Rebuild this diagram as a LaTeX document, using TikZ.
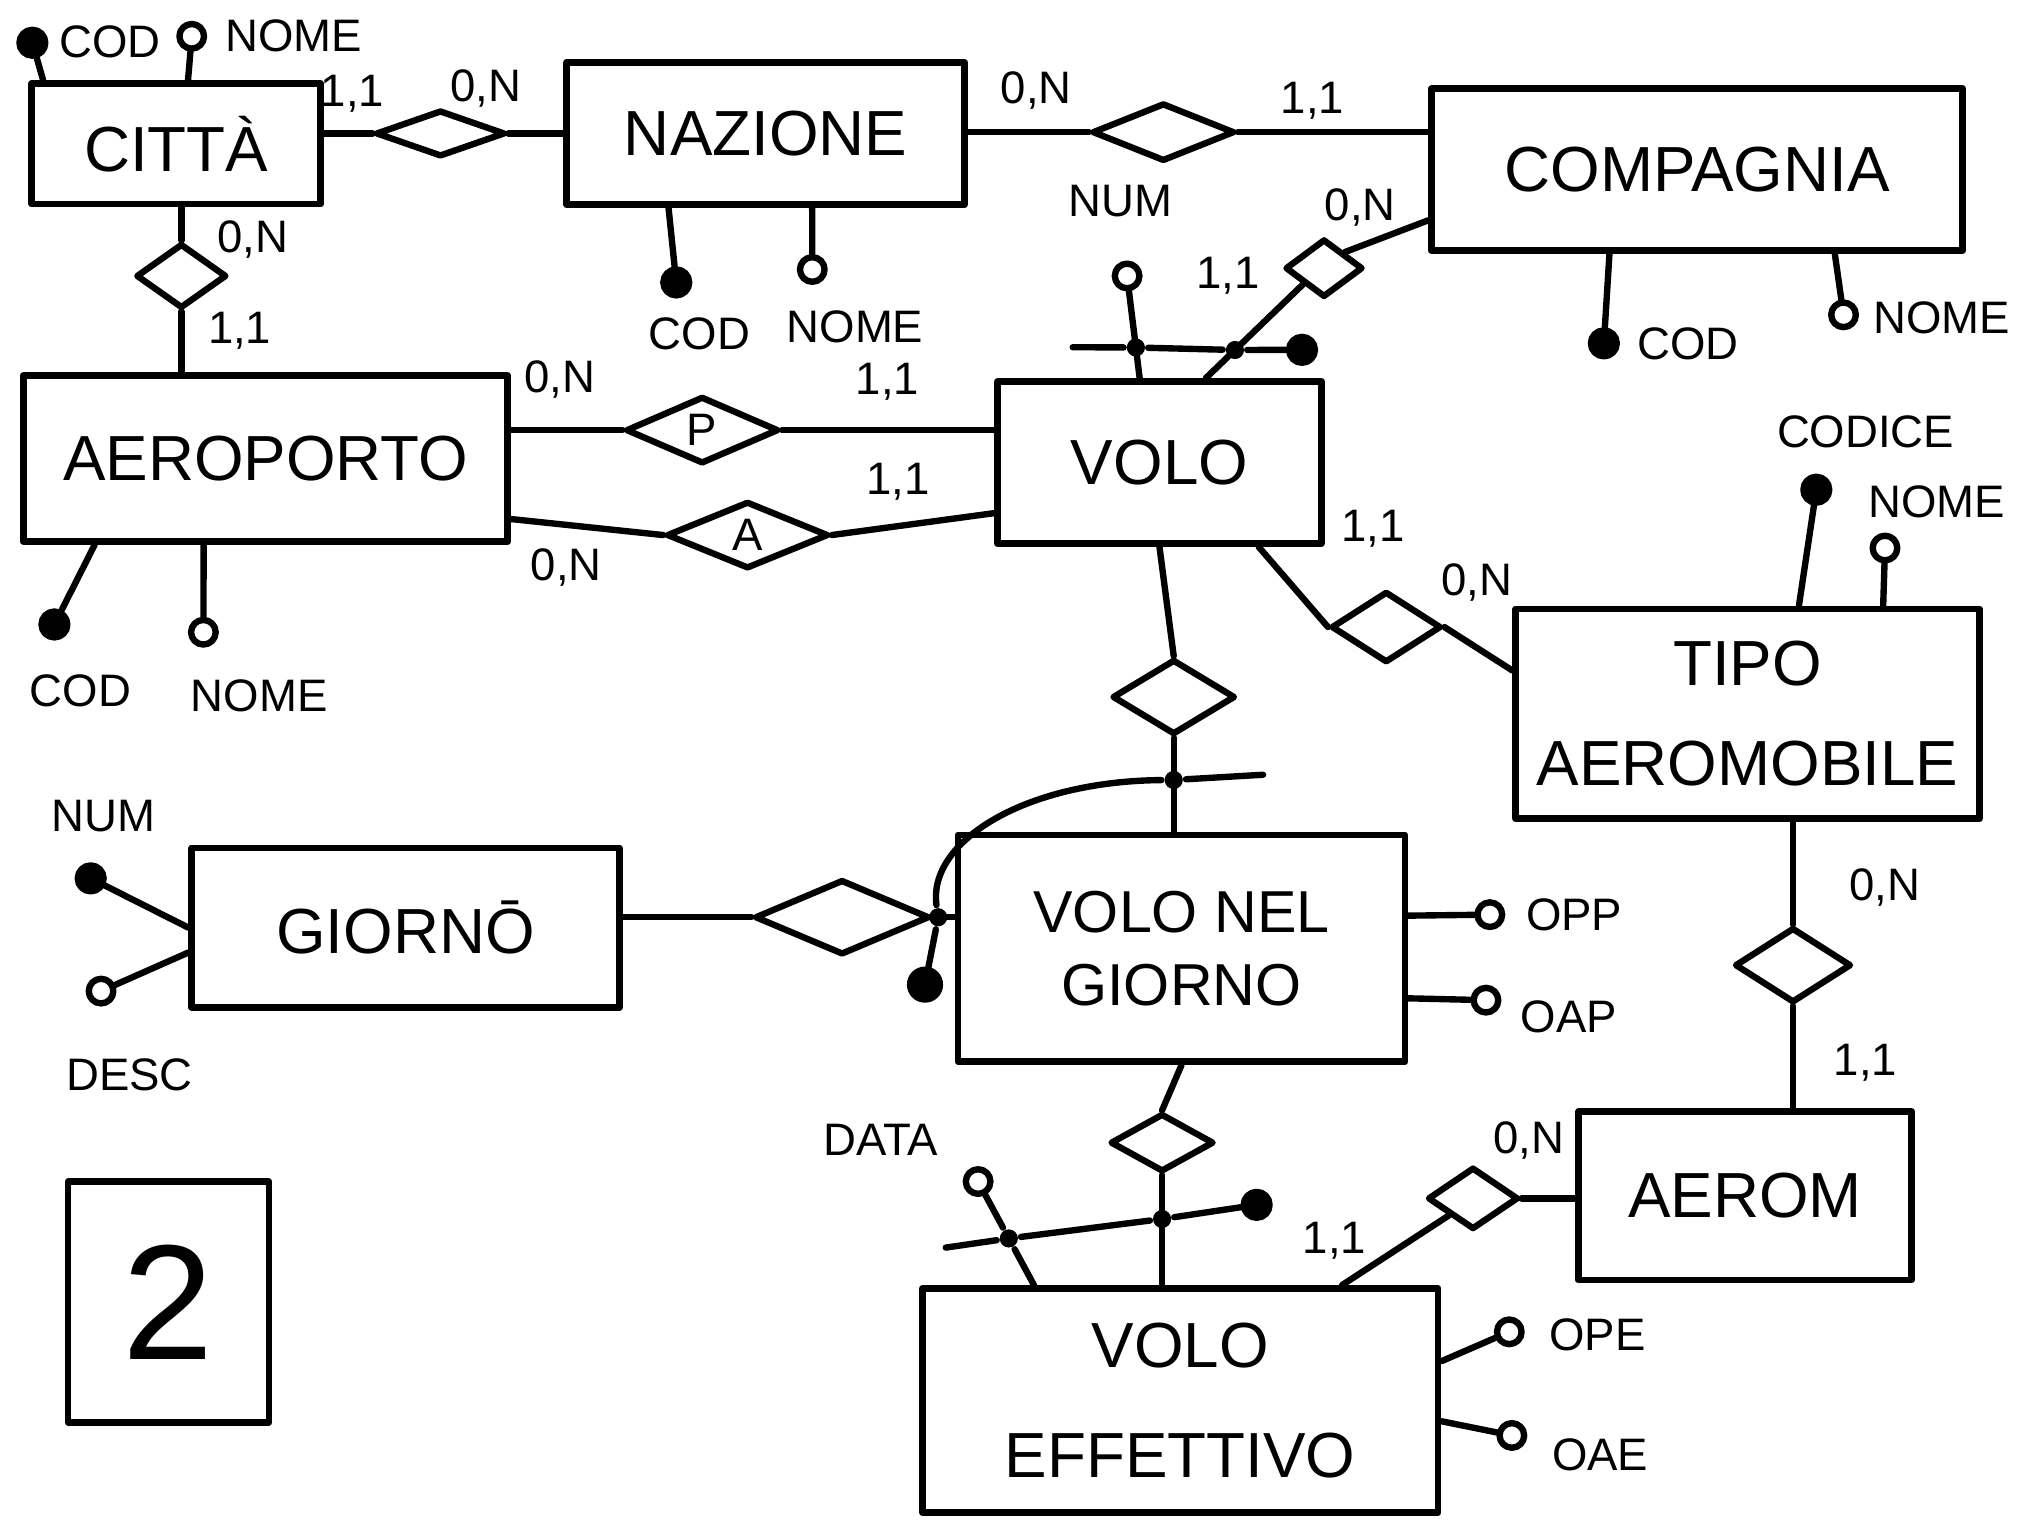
\documentclass[tikz,border=0pt]{standalone}
\usepackage{fontspec}
\setmainfont{Liberation Sans}
\usetikzlibrary{shapes.geometric,calc}
\begin{document}
\begin{tikzpicture}[x=0.1mm,y=-0.1mm, line width=1.4pt, line cap=round, line join=round,
  ent/.style={draw, line width=1.5pt, align=center, font=\fontsize{14}{22}\selectfont, inner sep=0pt},
  rel/.style={draw, diamond, line width=1.4pt, inner sep=0pt, font=\fontsize{10}{12}\selectfont},
  attr/.style={circle, draw, line width=1.4pt, fill=white, inner sep=0pt, minimum size=1.9mm},
  key/.style={circle, draw, line width=1.4pt, fill=black, inner sep=0pt, minimum size=2mm},
  dot/.style={circle, fill=black, inner sep=0pt, minimum size=1.4mm},
  lbl/.style={font=\fontsize{10}{12}\selectfont, inner sep=1pt},
  card/.style={font=\fontsize{10}{12}\selectfont, inner sep=1pt}]
\useasboundingbox (0,0) rectangle (1560,1172.5);
\fill[white] (0,0) rectangle (1560,1172.5);

% ---------- entities ----------
\node[ent, minimum width=22.3mm, minimum height=9.3mm] (citta) at (136,111) {CITTÀ};
\node[ent, minimum width=30.7mm, minimum height=11mm] (nazione) at (591,103) {NAZIONE};
\node[ent, minimum width=41mm, minimum height=12.5mm] (compagnia) at (1310,131) {COMPAGNIA};
\node[ent, minimum width=37.4mm, minimum height=12.8mm] (aeroporto) at (205,354) {AEROPORTO};
\node[ent, minimum width=25mm, minimum height=12.5mm] (volo) at (895,357) {VOLO};
\node[ent, minimum width=35.8mm, minimum height=16.2mm] (tipo) at (1349,551) {TIPO\\AEROMOBILE};
\node[ent, minimum width=33mm, minimum height=12.3mm] (giorno) at (313,716) {GIORNŌ};
\node[ent, minimum width=34.5mm, minimum height=17.5mm, font=\fontsize{13}{16}\selectfont] (vng) at (912,732) {VOLO NEL\\GIORNO};
\node[ent, minimum width=25.7mm, minimum height=13mm] (aerom) at (1347,923) {AEROM};
\node[ent, minimum width=39.8mm, minimum height=17.3mm, font=\fontsize{14}{24}\selectfont] (voloeff) at (911,1081) {VOLO\\EFFETTIVO};
\node[draw, line width=1.4pt, minimum width=15.5mm, minimum height=18.6mm, font=\fontsize{36}{40}\selectfont] (box2) at (130,1005) {2};

% ---------- relationships ----------
\node[rel, minimum width=10mm, minimum height=3.6mm] (r1) at (340,103) {};
\node[rel, minimum width=7mm, minimum height=5mm] (r2) at (140,213) {};
\node[rel, minimum width=11mm, minimum height=4.5mm] (r3) at (898,102) {};
\node[rel, minimum width=6mm, minimum height=4.5mm] (r4) at (1022,207) {};
\node[rel, minimum width=11.8mm, minimum height=5.2mm] (rP) at (542,332) {P};
\node[rel, minimum width=12.5mm, minimum height=5.2mm] (rA) at (577,413) {A};
\node[rel, minimum width=8.5mm, minimum height=5.5mm] (r7) at (1070,484) {};
\node[rel, minimum width=9.5mm, minimum height=5.8mm] (r8) at (906,538) {};
\node[rel, minimum width=13.5mm, minimum height=5.8mm] (r9) at (650,708) {};
\node[rel, minimum width=8mm, minimum height=4.5mm] (r10) at (897,882) {};
\node[rel, minimum width=9mm, minimum height=5.8mm] (r11) at (1384,745) {};
\node[rel, minimum width=7mm, minimum height=4.8mm] (r12) at (1137,925) {};

% ---------- connectors ----------
\draw (citta.east |- r1.west) -- (r1.west);
\draw (r1.east) -- (r1.east -| nazione.west);
\draw (r2.north |- citta.south) -- (r2.north);
\draw (r2.south) -- (r2.south |- aeroporto.north);
\draw (nazione.east |- r3.west) -- (r3.west);
\draw (r3.east) -- (r3.east -| compagnia.west);
\coordinate (vr4) at ($(volo.north west)!0.64!(volo.north east)$);
\draw (vr4) -- (r4.south west);
\draw (r4.north east) -- ($(compagnia.south west)!0.2!(compagnia.north west)$);
\draw (rP.west -| aeroporto.east) -- (rP.west);
\draw (rP.east) -- (rP.east -| volo.west);
\draw ($(aeroporto.south east)!0.15!(aeroporto.north east)$) -- (rA.west);
\draw (rA.east) -- ($(volo.south west)!0.2!(volo.north west)$);
\draw ($(volo.south west)!0.8!(volo.south east)$) -- (r7.west);
\draw (r7.east) -- ($(tipo.north west)!0.3!(tipo.south west)$);
\draw (volo.south) -- (r8.north);
\draw (r8.south) -- (r8.south |- vng.north);
\draw (r9.west -| giorno.east) -- (r9.west);
\draw (r9.east) -- (r9.east -| vng.west);
\draw (vng.south) -- (r10.north);
\draw (r10.south) -- (r10.south |- voloeff.north);
\draw (r11.north |- tipo.south) -- (r11.north);
\draw (r11.south) -- (r11.south |- aerom.north);
\draw (r12.east) -- (r12.east -| aerom.west);
\draw (r12.south west) -- ($(voloeff.north west)!0.81!(voloeff.north east)$);

% ---------- attributes ----------
\node[key] (cCod) at (25,33) {};
\draw (cCod) -- ($(citta.north west)!0.05!(citta.north east)$);
\node[attr] (cNome) at (148,28) {};
\draw (cNome) -- ($(citta.north west)!0.54!(citta.north east)$);
\node[key] (nCod) at (522,218) {};
\draw (nCod) -- ($(nazione.south west)!0.26!(nazione.south east)$);
\node[attr] (nNome) at (627,208) {};
\draw (nNome) -- ($(nazione.south west)!0.615!(nazione.south east)$);
\node[key] (coCod) at (1238,265) {};
\draw (coCod) -- ($(compagnia.south west)!0.337!(compagnia.south east)$);
\node[attr] (coNome) at (1423,243) {};
\draw (coNome) -- ($(compagnia.south west)!0.756!(compagnia.south east)$);
\node[key] (aCod) at (42,482) {};
\draw (aCod) -- ($(aeroporto.south west)!0.152!(aeroporto.south east)$);
\node[attr] (aNome) at (157,488) {};
\draw (aNome) -- ($(aeroporto.south west)!0.374!(aeroporto.south east)$);
\node[key] (tCod) at (1402,378) {};
\draw (tCod) -- ($(tipo.north west)!0.609!(tipo.north east)$);
\node[attr] (tNome) at (1455,423) {};
\draw (tNome) -- ($(tipo.north west)!0.788!(tipo.north east)$);
\node[key] (gNum) at (70,678) {};
\draw (gNum) -- ($(giorno.north west)!0.5!(giorno.south west)$);
\node[attr] (gDesc) at (78,765) {};
\draw (gDesc) -- ($(giorno.north west)!0.65!(giorno.south west)$);
\node[attr] (opp) at (1150,706) {};
\draw (opp) -- ($(vng.north east)!0.36!(vng.south east)$);
\node[attr] (oap) at (1147,772) {};
\draw (oap) -- ($(vng.north east)!0.714!(vng.south east)$);
\node[attr] (ope) at (1165,1028) {};
\draw (ope) -- ($(voloeff.north east)!0.33!(voloeff.south east)$);
\node[attr] (oae) at (1167,1108) {};
\draw (oae) -- ($(voloeff.north east)!0.59!(voloeff.south east)$);

% ---------- identifier of VOLO ----------
\coordinate (nTop) at ($(volo.north west)!0.44!(volo.north east)$);
\node[attr] (numv) at (870,213) {};
\node[dot] (nd) at ($(numv)!0.7!(nTop)$) {};
\node[dot] (rd) at ($(vr4)!0.3!(r4.south west)$) {};
\node[key] (idv) at (1005,270) {};
\coordinate (idvStart) at (828,268);
\draw (numv) -- (nTop);
\draw (idvStart) -- (nd) -- (rd) -- (idv);

% ---------- identifier of VOLO NEL GIORNO ----------
\node[dot] (gDot) at ($(r9.east)!0.25!(r9.east -| vng.west)$) {};
\node[key, minimum size=2.3mm] (gEnd) at (714,760) {};
\node[dot] (vDot) at ($(r8.south)!0.45!(r8.south |- vng.north)$) {};
\coordinate (vEnd) at (975,598);
\draw (gEnd) -- (gDot) .. controls (716,650) and (790,603) .. (vDot) -- (vEnd);

% ---------- identifier of VOLO EFFETTIVO ----------
\coordinate (deTop) at ($(voloeff.north west)!0.22!(voloeff.north east)$);
\node[attr] (data) at (755,912) {};
\node[dot] (dDot) at ($(data)!0.55!(deTop)$) {};
\node[dot] (eDot) at ($(r10.south)!0.4!(r10.south |- voloeff.north)$) {};
\node[key] (eEnd) at (970,930) {};
\coordinate (eStart) at (730,963);
\draw (eStart) -- (dDot) -- (eDot) -- (eEnd);
\draw (data) -- (dDot) -- (deTop);

% ---------- attribute labels ----------
\node[lbl, anchor=west] (t1) at (40,32) {COD};
\node[lbl, anchor=west] (t2) at (168,28) {NOME};
\node[lbl] (t3) at (540,258) {COD};
\node[lbl] (t4) at (660,252) {NOME};
\node[lbl] (t5) at (865,155) {NUM};
\node[lbl, anchor=west] (t6) at (1258,265) {COD};
\node[lbl, anchor=west] (t7) at (1440,245) {NOME};
\node[lbl] (t8) at (62,533) {COD};
\node[lbl] (t9) at (200,537) {NOME};
\node[lbl] (t10) at (1440,333) {CODICE};
\node[lbl] (t11) at (1495,387) {NOME};
\node[lbl] (t12) at (80,630) {NUM};
\node[lbl] (t13) at (100,830) {DESC};
\node[lbl, anchor=west] (t14) at (1172,706) {OPP};
\node[lbl, anchor=west] (t15) at (1168,785) {OAP};
\node[lbl] (t16) at (680,880) {DATA};
\node[lbl, anchor=west] (t17) at (1190,1030) {OPE};
\node[lbl, anchor=west] (t18) at (1192,1123) {OAE};

% ---------- cardinalities ----------
\node[card] (k1) at (272,72) {1,1};
\node[card] (k2) at (375,68) {0,N};
\node[card] (k3) at (800,70) {0,N};
\node[card] (k4) at (1013,78) {1,1};
\node[card] (k5) at (948,213) {1,1};
\node[card] (k6) at (1050,160) {0,N};
\node[card] (k7) at (195,185) {0,N};
\node[card] (k8) at (185,255) {1,1};
\node[card] (k9) at (432,293) {0,N};
\node[card] (k10) at (685,295) {1,1};
\node[card] (k11) at (693,372) {1,1};
\node[card] (k12) at (437,438) {0,N};
\node[card] (k13) at (1060,408) {1,1};
\node[card] (k14) at (1140,450) {0,N};
\node[card] (k15) at (1455,685) {0,N};
\node[card] (k16) at (1440,820) {1,1};
\node[card] (k17) at (1180,880) {0,N};
\node[card] (k18) at (1030,958) {1,1};
\end{tikzpicture}
\end{document}
